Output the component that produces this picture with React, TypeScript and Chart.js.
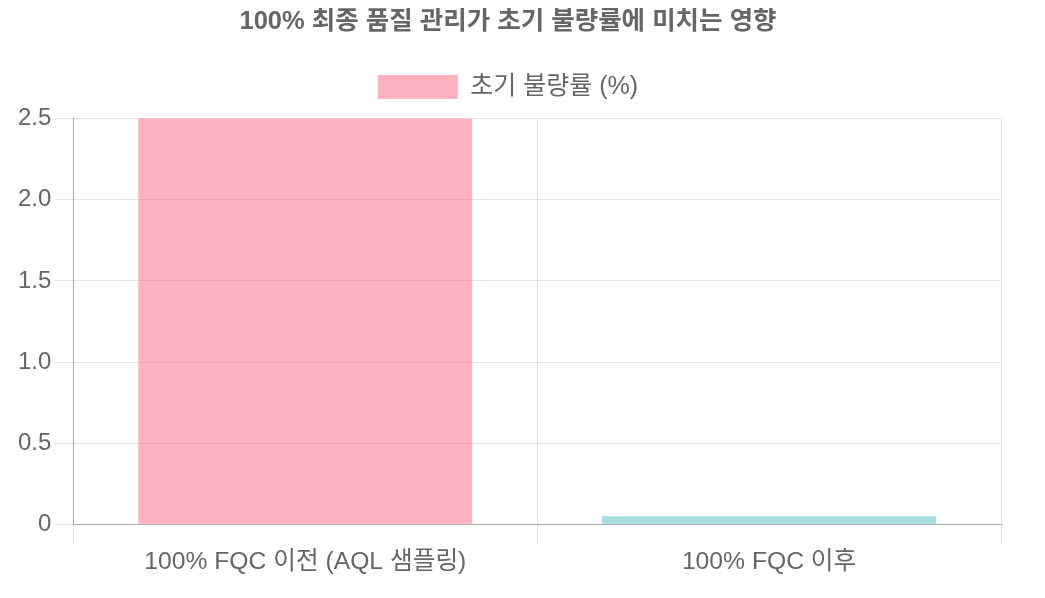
import React, { useEffect, useRef } from "react";
import { Chart, registerables } from "chart.js";

Chart.register(...registerables);

const categories = ["100% FQC 이전 (AQL 샘플링)", "100% FQC 이후"];
const defectRates = [3.0, 0.05];
const barColors = ["rgba(255, 99, 132, 0.5)", "rgba(75, 192, 192, 0.5)"];
const seriesLabel = "초기 불량률 (%)";
const chartTitle = "100% 최종 품질 관리가 초기 불량률에 미치는 영향";
const yTickStep = 0.5;
const yMax = 2.5;

const FONT = "'Liberation Sans', Arial, 'Noto Sans CJK KR', sans-serif";

const legendSpacing = {
  id: "legendSpacing",
  beforeInit(chart: any) {
    const origFit = chart.legend.fit;
    chart.legend.fit = function fit() {
      origFit.bind(chart.legend)();
      this.height += 9;
    };
  },
};

export default function App() {
  const ref = useRef<HTMLCanvasElement | null>(null);
  useEffect(() => {
    if (!ref.current) return;
    const chart = new Chart(ref.current, {
      type: "bar",
      data: {
        labels: categories,
        datasets: [
          {
            label: seriesLabel,
            data: defectRates,
            backgroundColor: barColors,
            borderWidth: 0,
          },
        ],
      },
      plugins: [legendSpacing],
      options: {
        animation: false,
        responsive: true,
        maintainAspectRatio: false,
        layout: { padding: { left: 7, right: 36, bottom: 9 } },
        plugins: {
          title: {
            display: true,
            text: chartTitle,
            color: "#666",
            font: { family: FONT, size: 25.5, weight: "bold" },
            padding: { top: 0, bottom: 27 },
          },
          legend: {
            labels: {
              color: "#666",
              boxWidth: 80,
              boxHeight: 24,
              padding: 10,
              font: { family: FONT, size: 25 },
            },
          },
          tooltip: { enabled: false },
        },
        scales: {
          x: {
            ticks: { color: "#666", font: { family: FONT, size: 24.7 } },
            grid: { color: "rgba(0,0,0,0.1)", tickLength: 20 },
            border: { color: "#aaa" },
          },
          y: {
            min: 0,
            max: yMax,
            ticks: {
              stepSize: yTickStep,
              color: "#666",
              font: { family: FONT, size: 24 },
              callback: (v: any) => (Number(v) === 0 ? "0" : Number(v).toFixed(1)),
            },
            grid: { color: "rgba(0,0,0,0.1)", tickLength: 19 },
            border: { color: "#aaa" },
          },
        },
      },
    });
    return () => chart.destroy();
  }, []);
  return (
    <div style={{ width: 1029, height: 582, position: "relative", marginTop: -1 }}>
      <canvas ref={ref} />
    </div>
  );
}
